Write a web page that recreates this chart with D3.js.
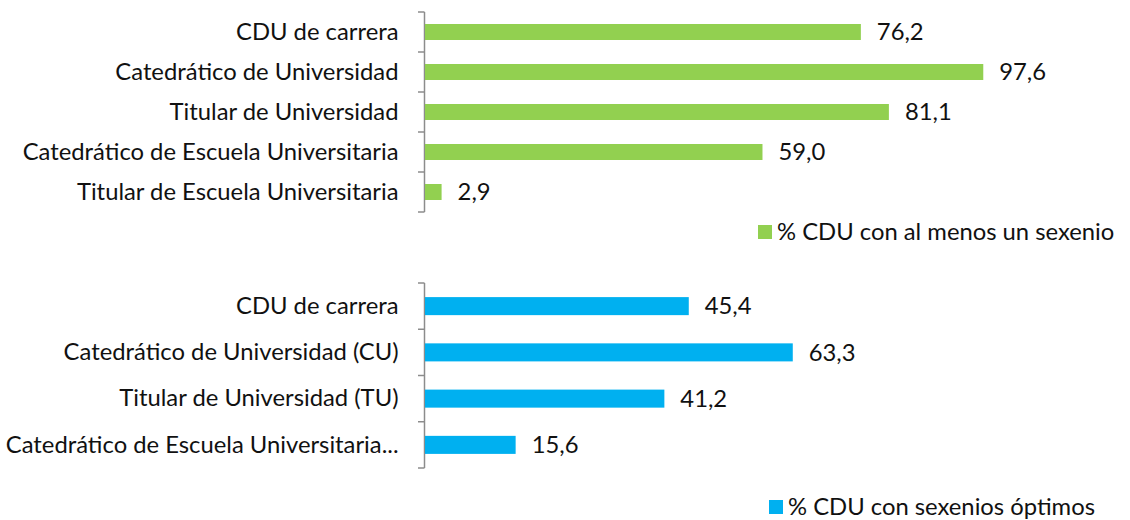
<!DOCTYPE html>
<html>
<head>
<meta charset="utf-8">
<script src="https://cdn.jsdelivr.net/npm/d3@7"></script>
<style>
  body { margin: 0; background: #fff; }
  text { font-family: Lato, "Open Sans", sans-serif; fill: #111; }
</style>
</head>
<body>
<div id="chart"></div>
<script>
// top panel: share with at least one sexenio
const topCategories = ['CDU de carrera', 'Catedrático de Universidad', 'Titular de Universidad',
  'Catedrático de Escuela Universitaria', 'Titular de Escuela Universitaria'];
const topValues = [76.2, 97.6, 81.1, 59.0, 2.9];
const topSeries = '% CDU con al menos un sexenio';

// bottom panel: share with optimal sexenios
const bottomCategories = ['CDU de carrera', 'Catedrático de Universidad (CU)', 'Titular de Universidad (TU)',
  'Catedrático de Escuela Universitaria...'];
const bottomValues = [45.4, 63.3, 41.2, 15.6];
const bottomSeries = '% CDU con sexenios óptimos';

const width = 1130, height = 520;
const fontSize = '23.8px';
const svg = d3.select('#chart').append('svg')
  .attr('width', width)
  .attr('height', height);

const fmt = v => v.toFixed(1).replace('.', ',');

function drawPanel(cats, vals, color, top, bottom, pxPerUnit, barFrac, legend) {
  const x0 = 425;
  const x = d3.scaleLinear().domain([0, 100]).range([x0, x0 + pxPerUnit * 100]);
  const y = d3.scaleBand().domain(cats).range([top, bottom]).paddingInner(0).paddingOuter(0);
  const g = svg.append('g');

  // category axis, tick marks between categories
  const axis = g.append('g')
    .attr('transform', `translate(${x0 - 0.5},0)`)
    .call(d3.axisLeft(y).tickSize(0).tickPadding(26));
  axis.select('.domain').remove();
  axis.selectAll('text').style('font-size', fontSize).attr('fill', '#111');

  const edges = cats.map(c => y(c)).concat([bottom]);
  g.append('line')
    .attr('x1', x0 - 0.5).attr('x2', x0 - 0.5)
    .attr('y1', top).attr('y2', bottom)
    .attr('stroke', '#8c8c8c').attr('stroke-width', 1.5);
  g.selectAll('.tk').data(edges).join('line')
    .attr('x1', x0 - 7).attr('x2', x0 - 0.5)
    .attr('y1', d => d).attr('y2', d => d)
    .attr('stroke', '#8c8c8c').attr('stroke-width', 1.5);

  const bh = y.bandwidth() * barFrac;
  g.selectAll('.bar').data(vals).join('rect')
    .attr('x', x0)
    .attr('y', (d, i) => y(cats[i]) + (y.bandwidth() - bh) / 2)
    .attr('width', d => x(d) - x0)
    .attr('height', bh)
    .attr('fill', color);

  g.selectAll('.val').data(vals).join('text')
    .attr('x', d => x(d) + 16)
    .attr('y', (d, i) => y(cats[i]) + y.bandwidth() / 2)
    .attr('dy', '0.35em')
    .style('font-size', fontSize)
    .text(fmt);

  // legend
  g.append('rect')
    .attr('x', legend.x).attr('y', legend.y - 7)
    .attr('width', 14).attr('height', 14)
    .attr('fill', color);
  g.append('text')
    .attr('x', legend.x + 19).attr('y', legend.y)
    .attr('dy', '0.35em')
    .style('font-size', fontSize)
    .text(legend.label);
}

drawPanel(topCategories, topValues, '#92D050', 12, 212, 5.72, 0.4,
  { x: 758, y: 232, label: topSeries });
drawPanel(bottomCategories, bottomValues, '#00B0F0', 283, 468, 5.81, 0.39,
  { x: 769, y: 507, label: bottomSeries });
</script>
</body>
</html>
